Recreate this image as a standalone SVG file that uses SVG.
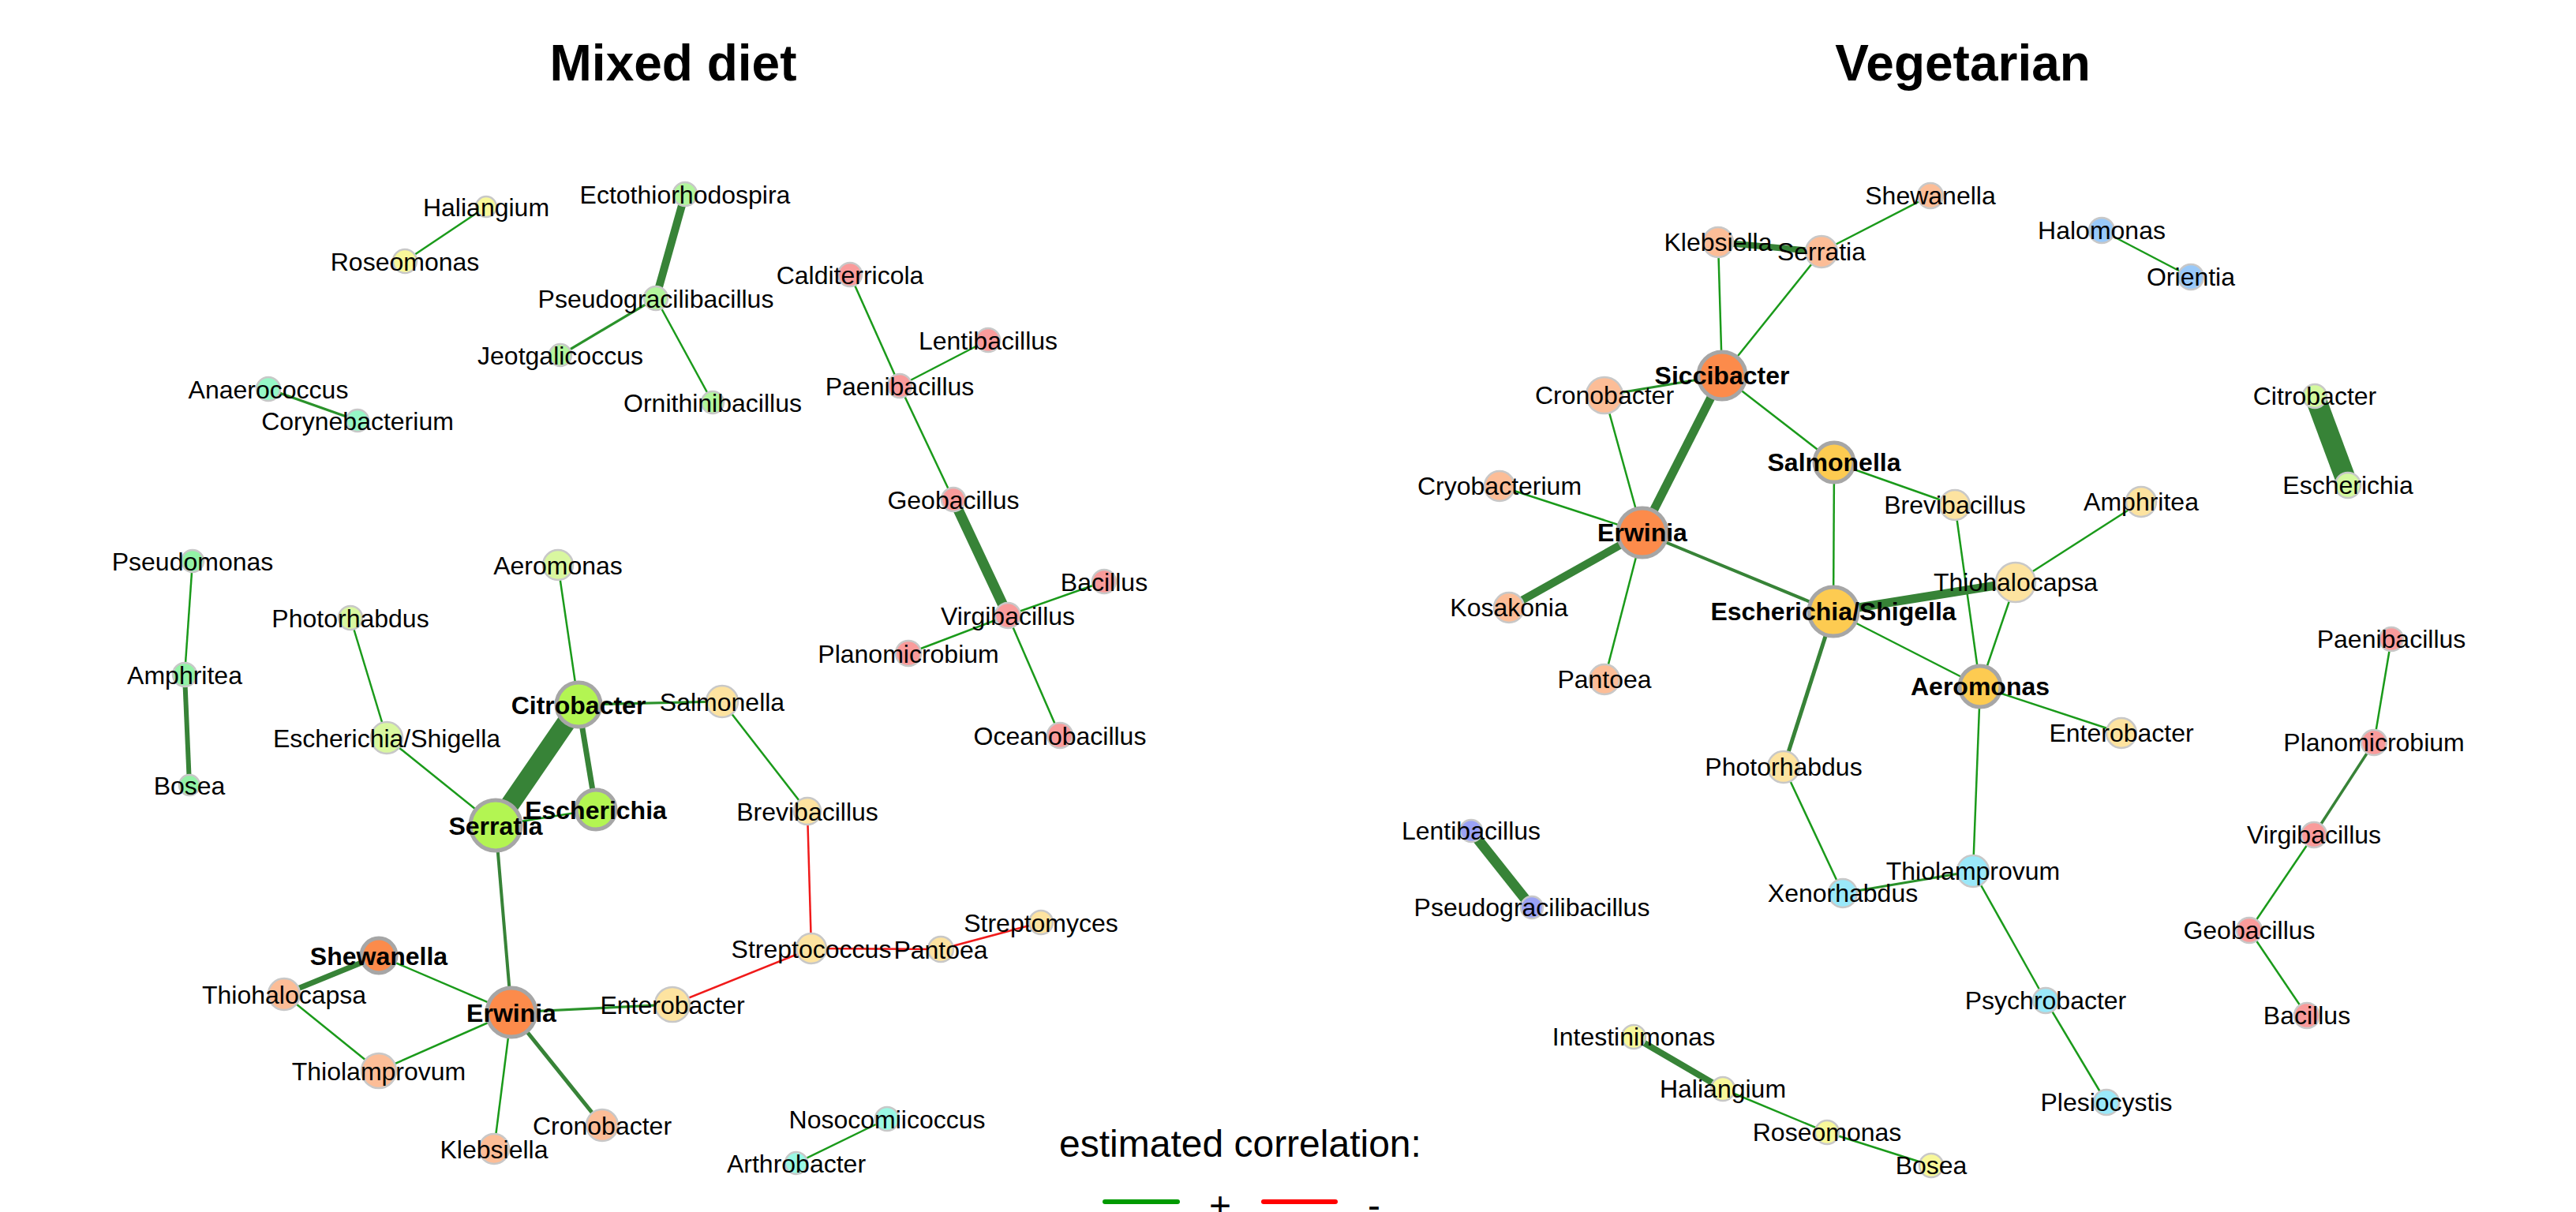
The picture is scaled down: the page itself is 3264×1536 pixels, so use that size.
<svg xmlns="http://www.w3.org/2000/svg" width="3264" height="1536" viewBox="0 0 3264 1536">
<style>
text{font-family:"Liberation Sans",Arial,sans-serif;fill:#000}
.t{font-size:64px;font-weight:bold;text-anchor:middle}
.l{font-size:32px;text-anchor:middle}
.b{font-size:32px;font-weight:bold;text-anchor:middle}
.n{stroke:#c8c8c8;stroke-width:2.5}
.h{stroke:#a6a6a6;stroke-width:5}
.e{stroke:#1a9a1a;stroke-width:2.5;fill:none}
.m{stroke:#2a922a;stroke-width:3.2;fill:none}
.s{stroke:#378337;fill:none}
.r{stroke:#f01a1a;stroke-width:2.5;fill:none}
.yel{fill:#f8f89a}.lg{fill:#b2f59c}.mint{fill:#96f7c6}.pk{fill:#f99b9b}.gr{fill:#93f2a6}
.pyg{fill:#d9f7a0}.gy{fill:#b3f552}.po{fill:#fde3a0}.or{fill:#fc8b4b}.sa{fill:#fcbd97}
.aq{fill:#9af8e4}.gd{fill:#fdcb51}.bl{fill:#99c9f9}.pw{fill:#9aa2f5}.cy{fill:#9ae8f9}.lg2{fill:#d4f99e}
</style>
<rect width="3264" height="1536" fill="#fff"/>
<text class="t" x="853" y="102">Mixed diet</text>
<text class="t" x="2487" y="102">Vegetarian</text>
<g id="connectors">
<!-- Mixed diet -->
<line class="e" x1="616" y1="262" x2="513" y2="331"/>
<line class="s" stroke-width="10" x1="868" y1="246" x2="831" y2="378"/>
<line class="m" x1="831" y1="378" x2="710" y2="450"/>
<line class="e" x1="831" y1="378" x2="903" y2="510"/>
<line class="m" x1="340" y1="493" x2="453" y2="533"/>
<line class="e" x1="1077" y1="348" x2="1140" y2="489"/>
<line class="e" x1="1140" y1="489" x2="1252" y2="431"/>
<line class="e" x1="1140" y1="489" x2="1208" y2="633"/>
<line class="s" stroke-width="13" x1="1208" y1="633" x2="1277" y2="780"/>
<line class="e" x1="1277" y1="780" x2="1399" y2="737"/>
<line class="e" x1="1277" y1="780" x2="1151" y2="828"/>
<line class="e" x1="1277" y1="780" x2="1343" y2="932"/>
<line class="e" x1="244" y1="711" x2="234" y2="855"/>
<line class="s" stroke-width="6" x1="234" y1="855" x2="240" y2="995"/>
<line class="e" x1="707" y1="716" x2="733" y2="893"/>
<line class="e" x1="444" y1="783" x2="490" y2="935"/>
<line class="e" x1="490" y1="935" x2="628" y2="1046"/>
<line class="s" stroke-width="24" x1="733" y1="893" x2="628" y2="1046"/>
<line class="s" stroke-width="7" x1="733" y1="893" x2="755" y2="1026"/>
<line class="m" x1="733" y1="893" x2="915" y2="889"/>
<line class="e" x1="628" y1="1046" x2="755" y2="1026"/>
<line class="e" x1="915" y1="889" x2="1023" y2="1028"/>
<line class="s" stroke-width="4" x1="628" y1="1046" x2="648" y2="1283"/>
<line class="r" x1="1023" y1="1028" x2="1028" y2="1202"/>
<line class="r" x1="1028" y1="1202" x2="852" y2="1273"/>
<line class="r" x1="1028" y1="1202" x2="1192" y2="1203"/>
<line class="r" x1="1192" y1="1203" x2="1319" y2="1169"/>
<line class="s" stroke-width="7" x1="480" y1="1211" x2="360" y2="1260"/>
<line class="e" x1="480" y1="1211" x2="648" y2="1283"/>
<line class="e" x1="360" y1="1260" x2="480" y2="1357"/>
<line class="e" x1="480" y1="1357" x2="648" y2="1283"/>
<line class="m" x1="648" y1="1283" x2="852" y2="1273"/>
<line class="e" x1="648" y1="1283" x2="626" y2="1456"/>
<line class="s" stroke-width="5" x1="648" y1="1283" x2="763" y2="1426"/>
<line class="e" x1="1124" y1="1418" x2="1009" y2="1474"/>
<!-- Vegetarian -->
<line class="s" stroke-width="8" x1="2177" y1="307" x2="2308" y2="319"/>
<line class="e" x1="2308" y1="319" x2="2446" y2="248"/>
<line class="e" x1="2177" y1="307" x2="2182" y2="476"/>
<line class="e" x1="2308" y1="319" x2="2182" y2="476"/>
<line class="e" x1="2663" y1="292" x2="2776" y2="351"/>
<line class="m" x1="2182" y1="476" x2="2033" y2="501"/>
<line class="s" stroke-width="11" x1="2182" y1="476" x2="2081" y2="675"/>
<line class="e" x1="2182" y1="476" x2="2324" y2="586"/>
<line class="e" x1="2033" y1="501" x2="2081" y2="675"/>
<line class="e" x1="1900" y1="616" x2="2081" y2="675"/>
<line class="s" stroke-width="10" x1="2081" y1="675" x2="1912" y2="770"/>
<line class="e" x1="2081" y1="675" x2="2033" y2="861"/>
<line class="s" stroke-width="4" x1="2081" y1="675" x2="2323" y2="775"/>
<line class="e" x1="2324" y1="586" x2="2323" y2="775"/>
<line class="e" x1="2324" y1="586" x2="2477" y2="640"/>
<line class="e" x1="2477" y1="640" x2="2509" y2="870"/>
<line class="s" stroke-width="11" x1="2323" y1="775" x2="2554" y2="738"/>
<line class="e" x1="2554" y1="738" x2="2713" y2="636"/>
<line class="e" x1="2554" y1="738" x2="2509" y2="870"/>
<line class="e" x1="2323" y1="775" x2="2509" y2="870"/>
<line class="s" stroke-width="5" x1="2323" y1="775" x2="2260" y2="972"/>
<line class="e" x1="2509" y1="870" x2="2688" y2="929"/>
<line class="e" x1="2509" y1="870" x2="2500" y2="1104"/>
<line class="e" x1="2260" y1="972" x2="2335" y2="1132"/>
<line class="m" stroke-width="4" x1="2335" y1="1132" x2="2500" y2="1104"/>
<line class="e" x1="2500" y1="1104" x2="2592" y2="1268"/>
<line class="e" x1="2592" y1="1268" x2="2669" y2="1397"/>
<line class="s" stroke-width="26" x1="2933" y1="502" x2="2975" y2="615"/>
<line class="s" stroke-width="13" x1="1864" y1="1053" x2="1941" y2="1150"/>
<line class="e" x1="3030" y1="810" x2="3008" y2="941"/>
<line class="s" stroke-width="3.5" x1="3008" y1="941" x2="2932" y2="1058"/>
<line class="e" x1="2932" y1="1058" x2="2850" y2="1179"/>
<line class="e" x1="2850" y1="1179" x2="2923" y2="1287"/>
<line class="s" stroke-width="8" x1="2070" y1="1314" x2="2183" y2="1380"/>
<line class="e" x1="2183" y1="1380" x2="2315" y2="1435"/>
<line class="e" x1="2315" y1="1435" x2="2447" y2="1477"/>
</g>
<!-- Mixed diet nodes -->
<g id="m-haliangium"><circle class="n yel" cx="616" cy="262" r="13"/><text class="l" x="616" y="274">Haliangium</text></g>
<g id="m-roseomonas"><circle class="n yel" cx="513" cy="331" r="15"/><text class="l" x="513" y="343">Roseomonas</text></g>
<g id="m-ectothiorhodospira"><circle class="n lg" cx="868" cy="246" r="15"/><text class="l" x="868" y="258">Ectothiorhodospira</text></g>
<g id="m-pseudogracilibacillus"><circle class="n lg" cx="831" cy="378" r="15"/><text class="l" x="831" y="390">Pseudogracilibacillus</text></g>
<g id="m-jeotgalicoccus"><circle class="n lg" cx="710" cy="450" r="14"/><text class="l" x="710" y="462">Jeotgalicoccus</text></g>
<g id="m-ornithinibacillus"><circle class="n lg" cx="903" cy="510" r="14"/><text class="l" x="903" y="522">Ornithinibacillus</text></g>
<g id="m-anaerococcus"><circle class="n mint" cx="340" cy="493" r="15"/><text class="l" x="340" y="505">Anaerococcus</text></g>
<g id="m-corynebacterium"><circle class="n mint" cx="453" cy="533" r="14"/><text class="l" x="453" y="545">Corynebacterium</text></g>
<g id="m-calditerricola"><circle class="n pk" cx="1077" cy="348" r="15"/><text class="l" x="1077" y="360">Calditerricola</text></g>
<g id="m-lentibacillus"><circle class="n pk" cx="1252" cy="431" r="15"/><text class="l" x="1252" y="443">Lentibacillus</text></g>
<g id="m-paenibacillus"><circle class="n pk" cx="1140" cy="489" r="15"/><text class="l" x="1140" y="501">Paenibacillus</text></g>
<g id="m-geobacillus"><circle class="n pk" cx="1208" cy="633" r="15"/><text class="l" x="1208" y="645">Geobacillus</text></g>
<g id="m-bacillus"><circle class="n pk" cx="1399" cy="737" r="15"/><text class="l" x="1399" y="749">Bacillus</text></g>
<g id="m-virgibacillus"><circle class="n pk" cx="1277" cy="780" r="16"/><text class="l" x="1277" y="792">Virgibacillus</text></g>
<g id="m-planomicrobium"><circle class="n pk" cx="1151" cy="828" r="16"/><text class="l" x="1151" y="840">Planomicrobium</text></g>
<g id="m-oceanobacillus"><circle class="n pk" cx="1343" cy="932" r="16"/><text class="l" x="1343" y="944">Oceanobacillus</text></g>
<g id="m-pseudomonas"><circle class="n gr" cx="244" cy="711" r="14"/><text class="l" x="244" y="723">Pseudomonas</text></g>
<g id="m-amphritea"><circle class="n gr" cx="234" cy="855" r="15"/><text class="l" x="234" y="867">Amphritea</text></g>
<g id="m-bosea"><circle class="n gr" cx="240" cy="995" r="13"/><text class="l" x="240" y="1007">Bosea</text></g>
<g id="m-aeromonas"><circle class="n pyg" cx="707" cy="716" r="19"/><text class="l" x="707" y="728">Aeromonas</text></g>
<g id="m-photorhabdus"><circle class="n pyg" cx="444" cy="783" r="15"/><text class="l" x="444" y="795">Photorhabdus</text></g>
<g id="m-escherichia-shigella"><circle class="n pyg" cx="490" cy="935" r="20"/><text class="l" x="490" y="947">Escherichia/Shigella</text></g>
<g id="m-salmonella"><circle class="n po" cx="915" cy="889" r="20"/><text class="l" x="915" y="901">Salmonella</text></g>
<g id="m-brevibacillus"><circle class="n po" cx="1023" cy="1028" r="17"/><text class="l" x="1023" y="1040">Brevibacillus</text></g>
<g id="m-streptococcus"><circle class="n po" cx="1028" cy="1202" r="19"/><text class="l" x="1028" y="1214">Streptococcus</text></g>
<g id="m-pantoea"><circle class="n po" cx="1192" cy="1203" r="16"/><text class="l" x="1192" y="1215">Pantoea</text></g>
<g id="m-streptomyces"><circle class="n po" cx="1319" cy="1169" r="15"/><text class="l" x="1319" y="1181">Streptomyces</text></g>
<g id="m-enterobacter"><circle class="n po" cx="852" cy="1273" r="22"/><text class="l" x="852" y="1285">Enterobacter</text></g>
<g id="m-thiohalocapsa"><circle class="n sa" cx="360" cy="1260" r="20"/><text class="l" x="360" y="1272">Thiohalocapsa</text></g>
<g id="m-thiolamprovum"><circle class="n sa" cx="480" cy="1357" r="22"/><text class="l" x="480" y="1369">Thiolamprovum</text></g>
<g id="m-klebsiella"><circle class="n sa" cx="626" cy="1456" r="19"/><text class="l" x="626" y="1468">Klebsiella</text></g>
<g id="m-cronobacter"><circle class="n sa" cx="763" cy="1426" r="20"/><text class="l" x="763" y="1438">Cronobacter</text></g>
<g id="m-nosocomiicoccus"><circle class="n aq" cx="1124" cy="1418" r="15"/><text class="l" x="1124" y="1430">Nosocomiicoccus</text></g>
<g id="m-arthrobacter"><circle class="n aq" cx="1009" cy="1474" r="14"/><text class="l" x="1009" y="1486">Arthrobacter</text></g>
<g id="m-citrobacter"><circle class="h gy" cx="733" cy="893" r="28"/><text class="b" x="733" y="905">Citrobacter</text></g>
<g id="m-escherichia"><circle class="h gy" cx="755" cy="1026" r="25"/><text class="b" x="755" y="1038">Escherichia</text></g>
<g id="m-serratia"><circle class="h gy" cx="628" cy="1046" r="32"/><text class="b" x="628" y="1058">Serratia</text></g>
<g id="m-shewanella"><circle class="h or" cx="480" cy="1211" r="22"/><text class="b" x="480" y="1223">Shewanella</text></g>
<g id="m-erwinia"><circle class="h or" cx="648" cy="1283" r="31"/><text class="b" x="648" y="1295">Erwinia</text></g>
<!-- Vegetarian nodes -->
<g id="v-shewanella"><circle class="n sa" cx="2446" cy="248" r="16"/><text class="l" x="2446" y="259">Shewanella</text></g>
<g id="v-klebsiella"><circle class="n sa" cx="2177" cy="307" r="19"/><text class="l" x="2177" y="318">Klebsiella</text></g>
<g id="v-serratia"><circle class="n sa" cx="2308" cy="319" r="20"/><text class="l" x="2308" y="330">Serratia</text></g>
<g id="v-halomonas"><circle class="n bl" cx="2663" cy="292" r="16"/><text class="l" x="2663" y="303">Halomonas</text></g>
<g id="v-orientia"><circle class="n bl" cx="2776" cy="351" r="16"/><text class="l" x="2776" y="362">Orientia</text></g>
<g id="v-cronobacter"><circle class="n sa" cx="2033" cy="501" r="23"/><text class="l" x="2033" y="512">Cronobacter</text></g>
<g id="v-cryobacterium"><circle class="n sa" cx="1900" cy="616" r="19"/><text class="l" x="1900" y="627">Cryobacterium</text></g>
<g id="v-brevibacillus"><circle class="n po" cx="2477" cy="640" r="19"/><text class="l" x="2477" y="651">Brevibacillus</text></g>
<g id="v-amphritea"><circle class="n po" cx="2713" cy="636" r="19"/><text class="l" x="2713" y="647">Amphritea</text></g>
<g id="v-kosakonia"><circle class="n sa" cx="1912" cy="770" r="19"/><text class="l" x="1912" y="781">Kosakonia</text></g>
<g id="v-thiohalocapsa"><circle class="n po" cx="2554" cy="738" r="25"/><text class="l" x="2554" y="749">Thiohalocapsa</text></g>
<g id="v-pantoea"><circle class="n sa" cx="2033" cy="861" r="19"/><text class="l" x="2033" y="872">Pantoea</text></g>
<g id="v-enterobacter"><circle class="n po" cx="2688" cy="929" r="19"/><text class="l" x="2688" y="940">Enterobacter</text></g>
<g id="v-photorhabdus"><circle class="n po" cx="2260" cy="972" r="20"/><text class="l" x="2260" y="983">Photorhabdus</text></g>
<g id="v-lentibacillus"><circle class="n pw" cx="1864" cy="1053" r="14"/><text class="l" x="1864" y="1064">Lentibacillus</text></g>
<g id="v-pseudogracilibacillus"><circle class="n pw" cx="1941" cy="1150" r="14"/><text class="l" x="1941" y="1161">Pseudogracilibacillus</text></g>
<g id="v-xenorhabdus"><circle class="n cy" cx="2335" cy="1132" r="18"/><text class="l" x="2335" y="1143">Xenorhabdus</text></g>
<g id="v-thiolamprovum"><circle class="n cy" cx="2500" cy="1104" r="20"/><text class="l" x="2500" y="1115">Thiolamprovum</text></g>
<g id="v-psychrobacter"><circle class="n cy" cx="2592" cy="1268" r="16"/><text class="l" x="2592" y="1279">Psychrobacter</text></g>
<g id="v-plesiocystis"><circle class="n cy" cx="2669" cy="1397" r="16"/><text class="l" x="2669" y="1408">Plesiocystis</text></g>
<g id="v-intestinimonas"><circle class="n yel" cx="2070" cy="1314" r="15"/><text class="l" x="2070" y="1325">Intestinimonas</text></g>
<g id="v-haliangium"><circle class="n yel" cx="2183" cy="1380" r="15"/><text class="l" x="2183" y="1391">Haliangium</text></g>
<g id="v-roseomonas"><circle class="n yel" cx="2315" cy="1435" r="15"/><text class="l" x="2315" y="1446">Roseomonas</text></g>
<g id="v-bosea"><circle class="n yel" cx="2447" cy="1477" r="15"/><text class="l" x="2447" y="1488">Bosea</text></g>
<g id="v-citrobacter"><circle class="n lg2" cx="2933" cy="502" r="15"/><text class="l" x="2933" y="513">Citrobacter</text></g>
<g id="v-escherichia"><circle class="n lg2" cx="2975" cy="615" r="16"/><text class="l" x="2975" y="626">Escherichia</text></g>
<g id="v-paenibacillus"><circle class="n pk" cx="3030" cy="810" r="15"/><text class="l" x="3030" y="821">Paenibacillus</text></g>
<g id="v-planomicrobium"><circle class="n pk" cx="3008" cy="941" r="16"/><text class="l" x="3008" y="952">Planomicrobium</text></g>
<g id="v-virgibacillus"><circle class="n pk" cx="2932" cy="1058" r="16"/><text class="l" x="2932" y="1069">Virgibacillus</text></g>
<g id="v-geobacillus"><circle class="n pk" cx="2850" cy="1179" r="16"/><text class="l" x="2850" y="1190">Geobacillus</text></g>
<g id="v-bacillus"><circle class="n pk" cx="2923" cy="1287" r="16"/><text class="l" x="2923" y="1298">Bacillus</text></g>
<g id="v-siccibacter"><circle class="h or" cx="2182" cy="476" r="30"/><text class="b" x="2182" y="487">Siccibacter</text></g>
<g id="v-salmonella"><circle class="h gd" cx="2324" cy="586" r="25"/><text class="b" x="2324" y="597">Salmonella</text></g>
<g id="v-erwinia"><circle class="h or" cx="2081" cy="675" r="31"/><text class="b" x="2081" y="686">Erwinia</text></g>
<g id="v-escherichia-shigella"><circle class="h gd" cx="2323" cy="775" r="31"/><text class="b" x="2323" y="786">Escherichia/Shigella</text></g>
<g id="v-aeromonas"><circle class="h gd" cx="2509" cy="870" r="26"/><text class="b" x="2509" y="881">Aeromonas</text></g>
<g id="legend">
<text x="1342" y="1466" style="font-size:48px">estimated correlation:</text>
<line x1="1400" y1="1523" x2="1492" y2="1523" stroke="#009a00" stroke-width="6" stroke-linecap="round"/>
<text x="1546" y="1544" style="font-size:48px;text-anchor:middle">+</text>
<line x1="1601" y1="1523" x2="1692" y2="1523" stroke="#ff0000" stroke-width="6" stroke-linecap="round"/>
<text x="1741" y="1544" style="font-size:48px;text-anchor:middle">-</text>
</g>
</svg>
